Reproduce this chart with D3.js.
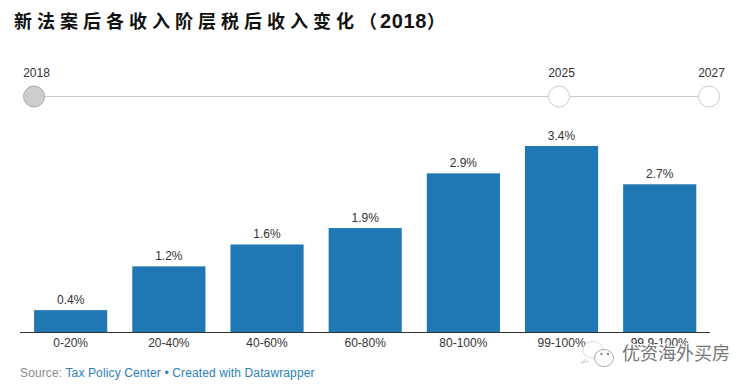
<!DOCTYPE html>
<html>
<head>
<meta charset="utf-8">
<script src="https://cdnjs.cloudflare.com/ajax/libs/d3/7.8.5/d3.min.js"></script>
<style>
	html, body { margin: 0; padding: 0; background: #fff; }
	svg { display: block; }
	text { font-family: "Liberation Sans", Arial, sans-serif; }
</style>
</head>
<body>
<div id="chart"></div>
<script>
	const categories = ['0-20%', '20-40%', '40-60%', '60-80%', '80-100%', '99-100%', '99.9-100%'];
	const values = [0.4, 1.2, 1.6, 1.9, 2.9, 3.4, 2.7];
	const years = [2018, 2025, 2027];
	const activeYear = 2018;
	const titleText = '新法案后各收入阶层税后收入变化';
	const titleYear = '2018';
	const watermarkText = '优资海外买房';

	const width = 753;
	const height = 388;

	// Colours
	const barColor = '#1f77b4';
	const textColor = '#333333';
	const sourceColor = '#888888';
	const linkColor = '#2b7fc0';
	const sliderColor = '#cccccc';

	const svg = d3.select('#chart')
		.append('svg')
		.attr('width', width)
		.attr('height', height);

	// title
	const title = svg.append('text')
		.attr('x', 14)
		.attr('y', 28)
		.attr('fill', '#111111')
		.style('font-family', '"Noto Sans CJK SC", sans-serif')
		.style('font-size', '18px')
		.style('font-weight', '700');
	title.append('tspan')
		.style('letter-spacing', '5px')
		.text(titleText);
	title.append('tspan')
		.style('letter-spacing', '3px')
		.text('（');
	title.append('tspan')
		.style('font-family', '"Liberation Sans", Arial, sans-serif')
		.style('font-size', '20px')
		.style('letter-spacing', '0.6px')
		.text(titleYear);
	title.append('tspan').text('）');

	// year slider
	const yearX = d3.scaleLinear()
		.domain([years[0], years[years.length - 1]])
		.range([34, 709]);
	const sliderY = 96.5;

	svg.append('line')
		.attr('x1', yearX(years[0]))
		.attr('x2', yearX(years[years.length - 1]))
		.attr('y1', sliderY)
		.attr('y2', sliderY)
		.attr('stroke', sliderColor)
		.attr('stroke-width', 1);

	const yearGroup = svg.append('g')
		.selectAll('g')
		.data(years)
		.enter()
		.append('g')
		.attr('transform', d => `translate(${yearX(d)}, ${sliderY})`);

	yearGroup.append('circle')
		.attr('r', 10.5)
		.attr('fill', d => d === activeYear ? '#cccccc' : '#ffffff')
		.attr('stroke', d => d === activeYear ? '#aaaaaa' : sliderColor)
		.attr('stroke-width', 1);

	yearGroup.append('text')
		.attr('x', 2.5)
		.attr('y', -20)
		.attr('text-anchor', 'middle')
		.attr('fill', textColor)
		.style('font-size', '12px')
		.text(d => d);

	// bars
	const x = d3.scaleBand()
		.domain(categories)
		.range([21.6, 708.8])
		.paddingInner(0.255)
		.paddingOuter(0.1275);

	const y = d3.scaleLinear()
		.domain([0, 3.4])
		.range([332, 146]);

	svg.append('g')
		.selectAll('rect')
		.data(values)
		.enter()
		.append('rect')
		.attr('x', (d, i) => x(categories[i]))
		.attr('y', d => y(d))
		.attr('width', x.bandwidth())
		.attr('height', d => y(0) - y(d))
		.attr('fill', barColor);

	svg.append('g')
		.selectAll('text')
		.data(values)
		.enter()
		.append('text')
		.attr('x', (d, i) => x(categories[i]) + x.bandwidth() / 2)
		.attr('y', d => y(d) - 6)
		.attr('text-anchor', 'middle')
		.attr('fill', textColor)
		.style('font-size', '12px')
		.text(d => `${d.toFixed(1)}%`);

	// axis
	const axis = svg.append('g')
		.attr('transform', `translate(0, ${y(0)})`)
		.call(d3.axisBottom(x).tickSize(0).tickPadding(6));
	axis.select('.domain').remove();
	axis.selectAll('text')
		.attr('fill', textColor)
		.style('font-size', '12px')
		.style('font-family', '"Liberation Sans", Arial, sans-serif');

	svg.append('line')
		.attr('x1', 20)
		.attr('x2', 710)
		.attr('y1', y(0) + 0.5)
		.attr('y2', y(0) + 0.5)
		.attr('stroke', textColor)
		.attr('stroke-width', 1);

	// source line
	const source = svg.append('text')
		.attr('x', 20)
		.attr('y', 377)
		.attr('fill', sourceColor)
		.style('font-size', '12px')
		.style('letter-spacing', '0.125px');
	source.append('tspan').text('Source: ');
	source.append('tspan').attr('fill', linkColor).text('Tax Policy Center');
	source.append('tspan').attr('fill', linkColor).text(' • Created with Datawrapper');

	// watermark, sits on top of the last axis labels
	const mark = svg.append('g').attr('transform', 'translate(604, 358)');
	mark.append('ellipse')
		.attr('cx', -11).attr('cy', -8).attr('rx', 10).attr('ry', 8.5)
		.attr('fill', '#ffffff').attr('fill-opacity', 0.85).attr('stroke', '#dddddd').attr('stroke-width', 1);
	mark.append('ellipse')
		.attr('rx', 9.5).attr('ry', 8.5)
		.attr('fill', '#ffffff').attr('stroke', '#aaaaaa').attr('stroke-width', 1);
	mark.append('path')
		.attr('d', 'M-18,1 L-23,5 L-15,3')
		.attr('fill', 'none').attr('stroke', '#cccccc').attr('stroke-width', 1);
	mark.append('circle').attr('cx', -2.5).attr('cy', -4).attr('r', 1.2).attr('fill', '#888888');
	mark.append('circle').attr('cx', 4).attr('cy', -4).attr('r', 1.2).attr('fill', '#888888');

	svg.append('text')
		.attr('x', 622)
		.attr('y', 360)
		.attr('fill', '#777777')
		.attr('stroke', '#ffffff')
		.attr('stroke-width', 2)
		.attr('paint-order', 'stroke')
		.style('font-family', '"Noto Sans CJK SC", sans-serif')
		.style('font-size', '18px')
		.text(watermarkText);
</script>
</body>
</html>
